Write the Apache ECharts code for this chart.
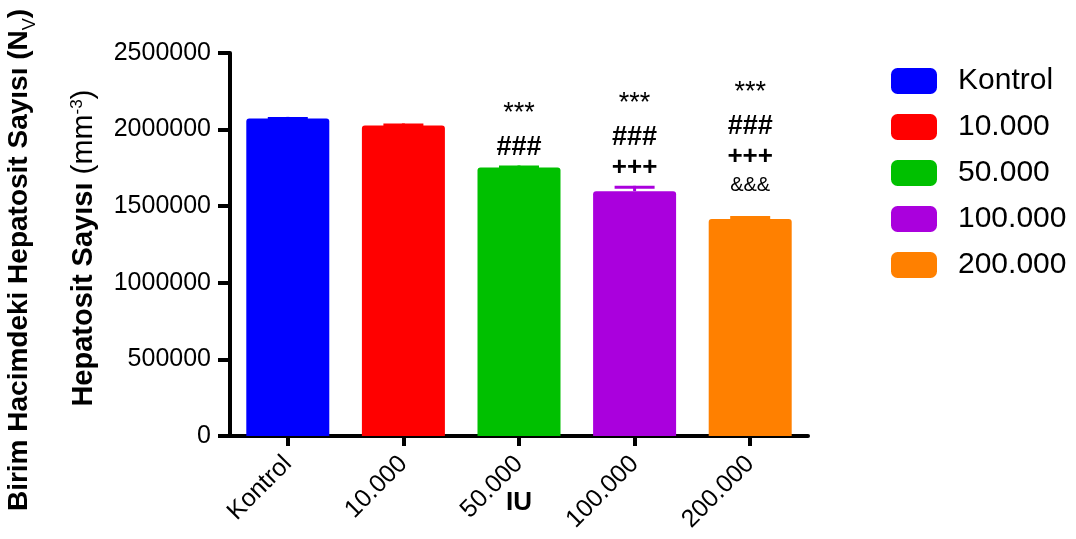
<!DOCTYPE html>
<html>
<head>
<meta charset="utf-8">
<script src="https://cdn.jsdelivr.net/npm/echarts@6/dist/echarts.min.js"></script>
<style>
html,body{margin:0;padding:0;background:#fff;}
#chart{width:1076px;height:539px;}
</style>
</head>
<body>
<div id="chart"></div>
<script>
// ---- data ----
const categories = ['Kontrol', '10.000', '50.000', '100.000', '200.000'];
const means = [2072000, 2027000, 1753000, 1598000, 1416000];
const sems = [11000, 13000, 13000, 35000, 20000];
const annotations = [[], [], ['***', '###'], ['***', '###', '+++'], ['***', '###', '+++', '&&&']];
const yTicks = { min: 0, max: 2500000, interval: 500000 };

// ---- style ----
const FONT = '"Liberation Sans", Arial, sans-serif';
const colors = ['#0000FF', '#FF0000', '#00C000', '#AA00DD', '#FF8000'];
const annStyle = {
  '***': { font: 'normal 27px ' + FONT, dy: 6, above: 38 },
  '###': { font: 'bold 27px ' + FONT, dy: 2, above: 30 },
  '+++': { font: 'bold 26px ' + FONT, dy: 2, above: 30 },
  '&&&': { font: 'normal 20px ' + FONT, dy: 0, above: 30 }
};

const chart = echarts.init(document.getElementById('chart'), null, { renderer: 'canvas' });

const barSeries = categories.map((name, i) => ({
  type: 'bar',
  name: name,
  data: categories.map((c, j) => (j === i ? means[i] : '-')),
  barWidth: 83,
  barGap: '-100%',
  itemStyle: { color: colors[i], borderRadius: [3, 3, 0, 0] },
  emphasis: { disabled: true },
  z: 2
}));

const errSeries = {
  type: 'custom',
  name: 'err',
  data: categories.map((c, i) => [i, means[i], sems[i]]),
  z: 3,
  silent: true,
  renderItem: function (params, api) {
    const i = api.value(0);
    const m = api.value(1);
    const s = api.value(2);
    const pTop = api.coord([i, m + s]);
    const pMean = api.coord([i, m]);
    const col = colors[i];
    const children = [
      { type: 'line', shape: { x1: pTop[0], y1: pTop[1], x2: pMean[0], y2: pMean[1] }, style: { stroke: col, lineWidth: 3 } },
      { type: 'line', shape: { x1: pTop[0] - 20, y1: pTop[1] + 1.5, x2: pTop[0] + 20, y2: pTop[1] + 1.5 }, style: { stroke: col, lineWidth: 3 } }
    ];
    const lines = annotations[i];
    let y = pTop[1];
    for (let k = lines.length - 1; k >= 0; k--) {
      const t = lines[k];
      const st = annStyle[t];
      if (k === lines.length - 1) {
        y -= (t === '&&&' ? 31 : 20);
      } else {
        y -= st.above;
      }
      children.push({
        type: 'text',
        style: { text: t, x: pTop[0], y: y + st.dy, font: st.font, fill: '#000', align: 'center', verticalAlign: 'middle' }
      });
    }
    return { type: 'group', children: children };
  }
};

const option = {
  backgroundColor: '#fff',
  animation: false,
  textStyle: { fontFamily: FONT },
  grid: { left: 230, top: 53, width: 578, height: 383, containLabel: false, outerBoundsMode: 'none' },
  legend: {
    orient: 'vertical',
    left: 891,
    top: 66,
    padding: 0,
    itemWidth: 46,
    itemHeight: 26,
    itemGap: 16,
    icon: 'roundRect',
    data: categories,
    selectedMode: false,
    textStyle: { fontSize: 30, color: '#000', fontFamily: FONT, padding: [0, 0, 0, 16] }
  },
  xAxis: {
    type: 'category',
    data: categories,
    name: 'IU',
    nameLocation: 'middle',
    nameGap: 54,
    nameMoveOverlap: false,
    nameTextStyle: { fontSize: 26, fontWeight: 'bold', color: '#000', fontFamily: FONT },
    axisLine: { show: true, lineStyle: { color: '#000', width: 4 } },
    axisTick: { show: true, alignWithLabel: true, length: 10, lineStyle: { color: '#000', width: 4 } },
    axisLabel: { rotate: 45, fontSize: 25, color: '#000', margin: 24, interval: 0, fontFamily: FONT },
    splitLine: { show: false }
  },
  yAxis: {
    type: 'value',
    min: yTicks.min,
    max: yTicks.max,
    interval: yTicks.interval,
    axisLine: { show: true, lineStyle: { color: '#000', width: 4 } },
    axisTick: { show: true, length: 12, lineStyle: { color: '#000', width: 4 } },
    axisLabel: { fontSize: 25, color: '#000', margin: 19, fontFamily: FONT, formatter: function (v) { return String(v); } },
    splitLine: { show: false }
  },
  graphic: [
    {
      type: 'text',
      x: 22, y: 260,
      rotation: Math.PI / 2,
      style: {
        text: '{b|Birim Hacimdeki Hepatosit Sayısı (N}{sub|V}{b|)}',
        align: 'center', verticalAlign: 'middle',
        fill: '#000',
        rich: {
          b: { fontSize: 28, fontWeight: 'bold', fontFamily: FONT, lineHeight: 34, verticalAlign: 'top' },
          sub: { fontSize: 18, fontWeight: 'normal', fontFamily: FONT, lineHeight: 18, padding: [16, 0, 0, 0], verticalAlign: 'top' }
        }
      }
    },
    {
      type: 'text',
      x: 86, y: 248,
      rotation: Math.PI / 2,
      style: {
        text: '{b|Hepatosit Sayısı }{n|(mm}{sup|-3}{n|)}',
        align: 'center', verticalAlign: 'middle',
        fill: '#000',
        rich: {
          b: { fontSize: 29, fontWeight: 'bold', fontFamily: FONT, lineHeight: 34, verticalAlign: 'top' },
          n: { fontSize: 30, fontWeight: 'normal', fontFamily: FONT, lineHeight: 34, verticalAlign: 'top' },
          sup: { fontSize: 17, fontWeight: 'normal', fontFamily: FONT, lineHeight: 17, verticalAlign: 'top' }
        }
      }
    }
  ],
  series: barSeries.concat([errSeries])
};

chart.setOption(option);
</script>
</body>
</html>
